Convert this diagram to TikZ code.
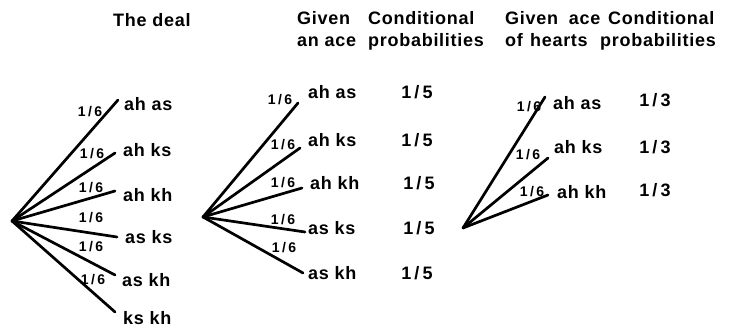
\documentclass[tikz,border=0pt]{standalone}
\usepackage{fontspec}
\setmainfont{Liberation Sans}[LetterSpace=4]
\newcommand{\frc}[2]{#1\hspace{0.18em}/\hspace{0.18em}#2}
\begin{document}
\begin{tikzpicture}[x=1pt,y=-1pt,
  branch/.style={line width=2.7pt, line cap=round},
  leaf/.style={anchor=west, inner sep=0pt, font=\fontsize{18}{20}\selectfont\bfseries},
  cond/.style={anchor=center, inner sep=0pt, font=\fontsize{18}{20}\selectfont\bfseries},
  prob/.style={anchor=center, inner sep=0pt, font=\fontsize{14}{16}\selectfont\bfseries},
  head/.style={anchor=base west, inner sep=0pt, font=\fontsize{18}{20}\selectfont\bfseries}]
\useasboundingbox (0,0) rectangle (735,328);

% headers
\node[head] (h1) at (113,27) {The deal};
\node[head] (h2a) at (297,25) {Given};
\node[head] (h2b) at (297,47) {an ace};
\node[head] (h3a) at (368,25) {Conditional};
\node[head] (h3b) at (368,47) {probabilities};
\node[head] (h4a) at (505,25) {Given\hspace{0.6em}ace};
\node[head] (h4b) at (505,47) {of\hspace{0.4em}hearts};
\node[head] (h5a) at (608,25) {Conditional};
\node[head] (h5b) at (600,47) {probabilities};

% tree 1
\coordinate (r1) at (12,221);
\coordinate (a1) at (118,100);
\coordinate (a2) at (115,153);
\coordinate (a3) at (115,191);
\coordinate (a4) at (117,237);
\coordinate (a5) at (115,275);
\coordinate (a6) at (115,312);
\foreach \i in {1,...,6} \draw[branch] (r1) -- (a\i);
\node[leaf] (t11) at (124,104) {ah as};
\node[leaf] (t12) at (123,150) {ah ks};
\node[leaf] (t13) at (123,195) {ah kh};
\node[leaf] (t14) at (125,237) {as ks};
\node[leaf] (t15) at (122,280) {as kh};
\node[leaf] (t16) at (123,318.5) {ks kh};
\node[prob] (p11) at (90,112) {\frc16};
\node[prob] (p12) at (92,154) {\frc16};
\node[prob] (p13) at (91,188) {\frc16};
\node[prob] (p14) at (91,218) {\frc16};
\node[prob] (p15) at (91,247) {\frc16};
\node[prob] (p16) at (93,280) {\frc16};

% tree 2
\coordinate (r2) at (203,217);
\coordinate (b1) at (298,103);
\coordinate (b2) at (300,148);
\coordinate (b3) at (302,188);
\coordinate (b4) at (305,232);
\coordinate (b5) at (303,273);
\foreach \i in {1,...,5} \draw[branch] (r2) -- (b\i);
\node[leaf] (t21) at (308,92) {ah as};
\node[leaf] (t22) at (308,140) {ah ks};
\node[leaf] (t23) at (310,183) {ah kh};
\node[leaf] (t24) at (308,228) {as ks};
\node[leaf] (t25) at (308,273) {as kh};
\node[prob] (p21) at (280,100) {\frc16};
\node[prob] (p22) at (283,145) {\frc16};
\node[prob] (p23) at (283,183) {\frc16};
\node[prob] (p24) at (283,220) {\frc16};
\node[prob] (p25) at (284,248) {\frc16};
\node[cond] (c21) at (417,92) {\frc15};
\node[cond] (c22) at (417,140) {\frc15};
\node[cond] (c23) at (419,183) {\frc15};
\node[cond] (c24) at (419,228) {\frc15};
\node[cond] (c25) at (417,273) {\frc15};

% tree 3
\coordinate (r3) at (463,228);
\coordinate (d1) at (545,97);
\coordinate (d2) at (548,158);
\coordinate (d3) at (548,195);
\foreach \i in {1,...,3} \draw[branch] (r3) -- (d\i);
\node[leaf] (t31) at (553,103) {ah as};
\node[leaf] (t32) at (554,147) {ah ks};
\node[leaf] (t33) at (557,192) {ah kh};
\node[prob] (p31) at (529,107) {\frc16};
\node[prob] (p32) at (528,155) {\frc16};
\node[prob] (p33) at (532,192) {\frc16};
\node[cond] (c31) at (655,100) {\frc13};
\node[cond] (c32) at (655,147) {\frc13};
\node[cond] (c33) at (655,190) {\frc13};
\end{tikzpicture}
\end{document}
